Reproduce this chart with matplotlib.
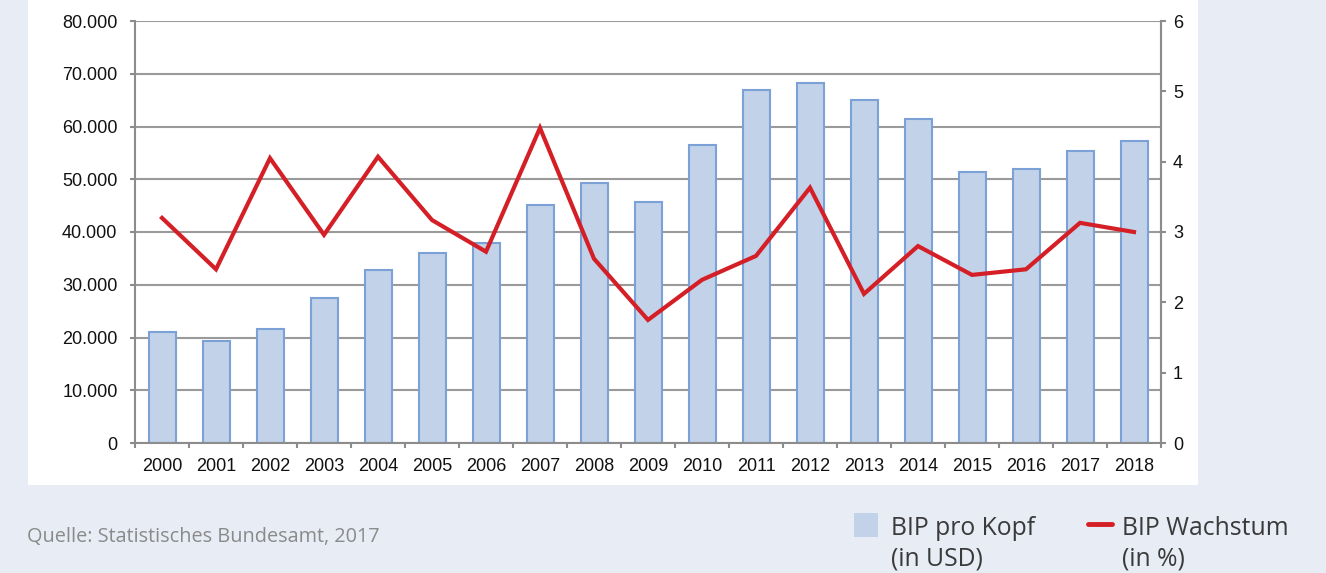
import matplotlib
matplotlib.use("Agg")
import matplotlib.pyplot as plt
from matplotlib.patches import Rectangle
from matplotlib.lines import Line2D
import numpy as np

years = ["2000", "2001", "2002", "2003", "2004", "2005", "2006", "2007", "2008", "2009",
         "2010", "2011", "2012", "2013", "2014", "2015", "2016", "2017", "2018"]
bip_pro_kopf = [21000, 19400, 21600, 27400, 32800, 36100, 37900, 45100, 49300, 45600,
                56500, 66900, 68200, 65000, 61400, 51400, 51900, 55400, 57200]
bip_wachstum = [3.2, 2.47, 4.05, 2.96, 4.07, 3.17, 2.72, 4.48, 2.62, 1.75,
                2.32, 2.66, 3.63, 2.12, 2.80, 2.39, 2.47, 3.13, 3.0]
left_ticks = [0, 10000, 20000, 30000, 40000, 50000, 60000, 70000, 80000]
left_labels = ["0", "10.000", "20.000", "30.000", "40.000", "50.000", "60.000", "70.000", "80.000"]
right_ticks = [0, 1, 2, 3, 4, 5, 6]

W, H = 1326, 573
fig = plt.figure(figsize=(W / 100, H / 100), dpi=100)
fig.patch.set_facecolor("#e8ecf5")

# white panel
fig.add_artist(Rectangle((28 / W, 1 - 485 / H), (1198 - 28) / W, 485 / H,
                         transform=fig.transFigure, facecolor="white", edgecolor="none", zorder=0))

ax = fig.add_axes([135 / W, 1 - 443 / H, (1161 - 135) / W, (443 - 21) / H])
ax.set_facecolor("none")
x = np.arange(len(years))
ax.bar(x, bip_pro_kopf, width=0.5, color="#c2d2e9", edgecolor="#7ba1d6", linewidth=1.5, zorder=2)
ax.set_xlim(-0.5, len(years) - 0.5)
ax.set_ylim(0, 80000)
ax.set_yticks(left_ticks)
ax.set_yticklabels(left_labels)
ax.set_xticks(x)
ax.set_xticklabels(years)
ax.set_xticks(np.arange(-0.5, len(years), 1.0), minor=True)
ax.tick_params(axis="x", which="major", length=0, pad=11)
ax.tick_params(axis="x", which="minor", length=3.6, width=1.5, color="#8c8c8c", direction="out")
ax.tick_params(axis="y", length=3.6, width=1.5, color="#8c8c8c", pad=9)
ax.grid(axis="y", color="#9a9a9a", linewidth=1.5, zorder=1)
ax.set_axisbelow(True)
ax.spines["top"].set_visible(False)
for s in ["left", "right", "bottom"]:
    ax.spines[s].set_color("#8c8c8c")
    ax.spines[s].set_linewidth(1.5)
for lbl in ax.get_xticklabels() + ax.get_yticklabels():
    lbl.set_fontfamily("Liberation Sans")
    lbl.set_fontsize(13)
    lbl.set_color("#111111")

ax2 = ax.twinx()
ax2.plot(x, bip_wachstum, color="#d51f27", linewidth=3, zorder=3, solid_joinstyle="miter")
ax2.set_ylim(0, 6)
ax2.set_yticks(right_ticks)
ax2.tick_params(axis="y", length=3.6, width=1.5, color="#8c8c8c", pad=5)
for s in ["top", "left", "bottom"]:
    ax2.spines[s].set_visible(False)
ax2.spines["right"].set_color("#8c8c8c")
ax2.spines["right"].set_linewidth(1.5)
for lbl in ax2.get_yticklabels():
    lbl.set_fontfamily("Liberation Sans")
    lbl.set_fontsize(13)
    lbl.set_color("#111111")

# footer
fig.text(27 / W, 1 - 542 / H, "Quelle: Statistisches Bundesamt, 2017", fontfamily="Open Sans",
         fontsize=14.3, color="#8a8a8a", ha="left", va="baseline")

# legend
fs = 17.8
tc = "#3a3a3a"
fig.add_artist(Rectangle((854 / W, 1 - 537 / H), 24 / W, 24 / H, transform=fig.transFigure,
                         facecolor="#c2d2e9", edgecolor="none"))
fig.text(891 / W, 1 - 535 / H, "BIP pro Kopf", fontfamily="Open Sans", fontsize=fs,
         color=tc, ha="left", va="baseline")
fig.text(891 / W, 1 - 566 / H, "(in USD)", fontfamily="Open Sans", fontsize=fs,
         color=tc, ha="left", va="baseline")
fig.add_artist(Line2D([1088 / W, 1112 / W], [1 - 524 / H, 1 - 524 / H], transform=fig.transFigure,
                      color="#d51f27", linewidth=3.5, solid_capstyle="round"))
fig.text(1122 / W, 1 - 535 / H, "BIP Wachstum", fontfamily="Open Sans", fontsize=fs,
         color=tc, ha="left", va="baseline")
fig.text(1122 / W, 1 - 566 / H, "(in %)", fontfamily="Open Sans", fontsize=fs,
         color=tc, ha="left", va="baseline")

fig.savefig("out.png", dpi=100, facecolor=fig.get_facecolor())
